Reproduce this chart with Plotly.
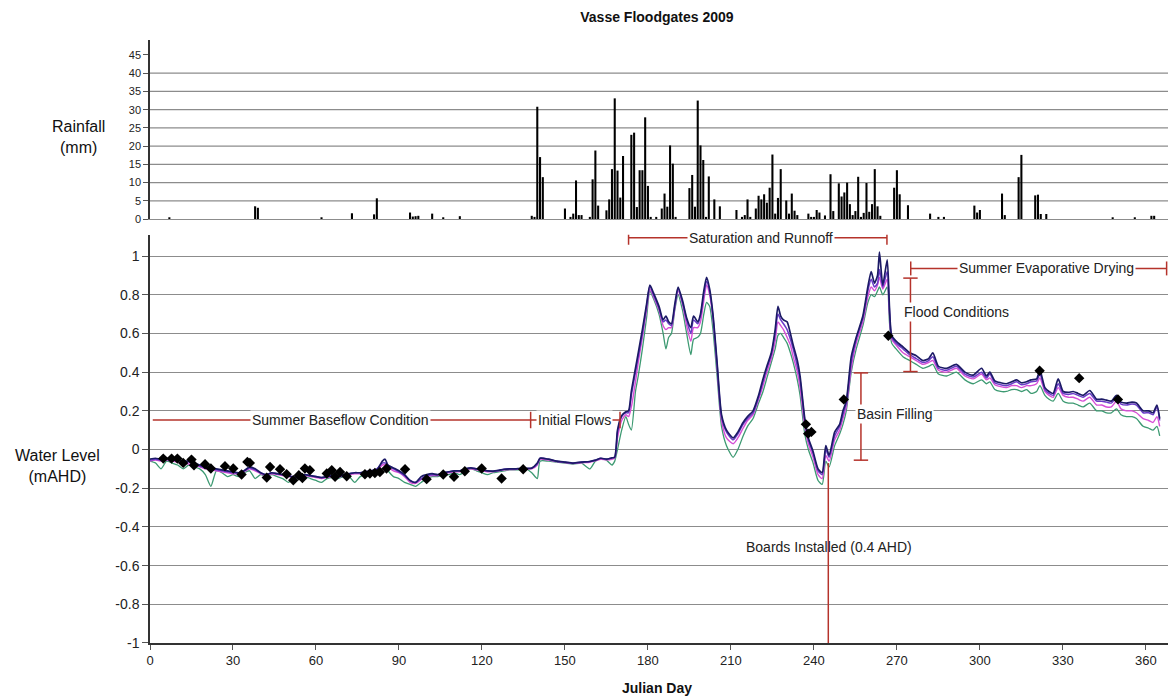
import plotly.graph_objects as go

# ---------------- data ----------------
rain_days = [7, 38, 39, 62, 73, 81, 82, 94, 95, 96, 97, 102, 106, 112, 138, 139, 140, 141, 142,
             150, 152, 153, 154, 155, 156, 159, 160, 161, 162, 165, 166, 167, 168, 169, 170, 171,
             174, 175, 176, 177, 178, 179, 180, 181, 183, 185, 186, 187, 188, 189, 190,
             195, 196, 197, 198, 199, 200, 201, 202, 204, 206, 212, 214, 215, 216, 217,
             219, 220, 221, 222, 223, 224, 225, 226, 227, 228, 230, 231, 232, 233, 234,
             238, 239, 240, 241, 242, 244, 246, 247, 249, 250, 251, 252, 253, 254, 255, 256,
             257, 258, 259, 260, 261, 262, 263, 264, 269, 270, 271, 274, 282, 285, 287,
             298, 299, 300, 308, 309, 314, 315, 320, 321, 322, 324, 348, 356, 362, 363]
rain_mm = [0.5, 3.5, 3.1, 0.5, 1.6, 1.3, 5.7, 1.8, 0.7, 0.8, 0.9, 1.5, 0.5, 0.8, 0.9, 0.6, 30.8, 17, 11.5,
           2.9, 0.6, 1.5, 10.6, 1.1, 1.1, 0.6, 10.9, 18.8, 3.7, 2.4, 5.4, 13.7, 33.1, 13.3, 5.9, 17.3,
           23.1, 23.7, 3.3, 13.4, 13.4, 27.9, 9.1, 0.6, 0.6, 2.9, 7, 3.4, 20.2, 15.2, 0.6,
           8.5, 12.1, 3.4, 32.5, 20.2, 16.2, 0.6, 11.7, 5.4, 3.5, 2.5, 0.6, 1.1, 5.4, 0.6,
           2.9, 6.4, 5.4, 6.8, 4.5, 8.6, 17.7, 1.5, 5.8, 13.7, 5.1, 1.5, 7, 2.3, 1.1,
           1.5, 0.6, 0.6, 2.5, 1.8, 1, 12.3, 2.2, 9.8, 6.2, 7.3, 10, 4.1, 1.1, 2.2, 11.6,
           0.6, 1.7, 9.9, 2, 4.1, 13.7, 3.5, 0.9, 8.6, 13.4, 6.8, 3.8, 1.5, 0.6, 0.6,
           3.7, 1.8, 2.5, 7, 1.1, 11.5, 17.6, 6.5, 6.7, 1.4, 1.4, 0.5, 0.5, 0.9, 0.9]

level_days = [0, 2, 4, 6, 8, 10, 12, 14, 16, 18, 20, 22, 24, 26, 28, 30, 32, 34, 36, 38, 40, 42, 44, 46, 48,
              50, 52, 54, 56, 58, 60, 62, 64, 66, 68, 70, 72, 74, 76, 78, 80, 82, 84, 85, 86, 88, 90, 92,
              94, 96, 98, 100, 102, 104, 106, 108, 110, 112, 114, 116, 118, 120, 122, 124, 126, 128, 130,
              132, 134, 136, 138, 140, 141, 144, 147, 150, 153, 156, 159, 161, 163, 165, 167, 168, 169,
              170.5, 172, 173, 174, 175.5, 176.5, 178, 179.5, 180.7, 182, 184, 185.5, 186.5, 187.5, 188.5,
              189.7, 190.9, 192.5, 194, 195.5, 196.5, 198, 199, 200.2, 201.2, 202.3, 203.5, 205, 206.6,
              208.4, 210.8, 212.5, 214.4, 216, 218, 220, 221.6, 223, 224.6, 226, 227, 228, 229, 230.3,
              231.5, 232.5, 234, 235, 236.7, 238, 239.7, 241.5, 243, 244.3, 245.5, 247.5, 249.3, 250.5,
              251.7, 253.5, 255.3, 257.7, 259.5, 260.7, 261.9, 263, 263.7, 264.9, 266.5, 267.3, 268.1,
              269.7, 272.2, 274.6, 277, 279.4, 281.5, 283, 285, 288, 291.5, 294.6, 297.6, 300.6, 302.4,
              303.6, 305.4, 307.5, 309.6, 311.5, 313.3, 315, 316.9, 318.5, 320.5, 321.7, 323.5, 325,
              326.5, 328.3, 330.1, 332, 333.7, 335.5, 337.3, 339.7, 342.2, 344, 345.8, 347.5, 349.4,
              351, 353, 355, 356.6, 359, 361, 362.6, 364, 365]

level_navy = [-0.05, -0.045, -0.05, -0.045, -0.05, -0.05, -0.06, -0.06, -0.07, -0.08, -0.09, -0.095, -0.1,
              -0.105, -0.11, -0.115, -0.12, -0.11, -0.09, -0.1, -0.12, -0.13, -0.12, -0.125, -0.13,
              -0.135, -0.145, -0.14, -0.13, -0.135, -0.14, -0.145, -0.14, -0.135, -0.14, -0.13, -0.125,
              -0.12, -0.12, -0.115, -0.11, -0.105, -0.06, -0.05, -0.08, -0.095, -0.11, -0.13,
              -0.16, -0.17, -0.14, -0.13, -0.125, -0.13, -0.12, -0.115, -0.11, -0.11, -0.1, -0.095,
              -0.1, -0.105, -0.11, -0.112, -0.108, -0.102, -0.1,
              -0.1, -0.098, -0.098, -0.096, -0.07, -0.045, -0.05, -0.06, -0.065, -0.07, -0.065, -0.062,
              -0.055, -0.045, -0.05, -0.043, -0.04, 0.1,
              0.175, 0.195, 0.2, 0.3, 0.42, 0.5, 0.62, 0.75, 0.85, 0.81, 0.74, 0.67, 0.69, 0.66, 0.65,
              0.75, 0.84, 0.77, 0.68, 0.63, 0.69, 0.66, 0.7, 0.82, 0.89, 0.83, 0.7, 0.45, 0.18,
              0.1, 0.06, 0.09, 0.14, 0.17, 0.2, 0.28, 0.365, 0.43, 0.5, 0.62, 0.74, 0.69, 0.67, 0.66,
              0.6, 0.54, 0.46, 0.38, 0.16, 0.06, -0.01, -0.1, -0.12, 0.02, -0.03, 0.09, 0.13, 0.2,
              0.25, 0.48, 0.58, 0.69, 0.84, 0.92, 0.86, 0.9, 1.02, 0.85, 0.98, 0.74, 0.59,
              0.56, 0.53, 0.5, 0.485, 0.46, 0.47, 0.5, 0.43, 0.42, 0.44, 0.4, 0.385, 0.42, 0.38,
              0.4, 0.355, 0.345, 0.34, 0.35, 0.36, 0.345, 0.35, 0.36, 0.365, 0.41, 0.32, 0.3,
              0.29, 0.365, 0.3, 0.295, 0.3, 0.29, 0.28, 0.305, 0.26, 0.26, 0.255, 0.25, 0.28,
              0.245, 0.24, 0.245, 0.24, 0.2, 0.2, 0.19, 0.23, 0.16]

level_purple = [-0.055, -0.05, -0.055, -0.05, -0.055, -0.055, -0.065, -0.065, -0.075, -0.085, -0.095, -0.1, -0.105,
                -0.11, -0.115, -0.12, -0.12, -0.11, -0.095, -0.105, -0.12, -0.13, -0.12, -0.125, -0.13,
                -0.135, -0.14, -0.14, -0.13, -0.135, -0.14, -0.145, -0.14, -0.135, -0.14, -0.13, -0.125,
                -0.12, -0.12, -0.115, -0.11, -0.1, -0.07, -0.07, -0.08, -0.1, -0.115, -0.135,
                -0.16, -0.17, -0.15, -0.135, -0.13, -0.13, -0.12, -0.115, -0.11, -0.11, -0.1, -0.095,
                -0.1, -0.105, -0.11, -0.112, -0.108, -0.102, -0.1,
                -0.1, -0.098, -0.098, -0.096, -0.075, -0.045, -0.05, -0.06, -0.065, -0.07, -0.065, -0.062,
                -0.055, -0.045, -0.05, -0.043, -0.04, 0.09,
                0.17, 0.19, 0.19, 0.28, 0.4, 0.48, 0.6, 0.74, 0.845, 0.8, 0.73, 0.66, 0.67, 0.65, 0.64,
                0.74, 0.83, 0.76, 0.67, 0.6, 0.67, 0.65, 0.69, 0.8, 0.87, 0.82, 0.69, 0.44, 0.17,
                0.09, 0.05, 0.08, 0.13, 0.16, 0.19, 0.27, 0.35, 0.42, 0.49, 0.6, 0.7, 0.67, 0.65, 0.62,
                0.57, 0.52, 0.43, 0.36, 0.15, 0.05, -0.02, -0.11, -0.13, 0.0, -0.04, 0.07, 0.12, 0.18,
                0.24, 0.45, 0.57, 0.68, 0.82, 0.88, 0.84, 0.86, 0.93, 0.84, 0.92, 0.72, 0.58,
                0.55, 0.52, 0.49, 0.47, 0.45, 0.46, 0.48, 0.42, 0.41, 0.43, 0.39, 0.375, 0.4, 0.37,
                0.39, 0.345, 0.335, 0.33, 0.34, 0.35, 0.335, 0.34, 0.35, 0.355, 0.39, 0.31, 0.29,
                0.28, 0.34, 0.29, 0.285, 0.29, 0.28, 0.27, 0.29, 0.25, 0.25, 0.245, 0.24, 0.27,
                0.235, 0.23, 0.235, 0.23, 0.19, 0.19, 0.18, 0.22, 0.15]

level_magenta = [-0.06, -0.055, -0.06, -0.055, -0.06, -0.065, -0.07, -0.075, -0.08, -0.09, -0.1, -0.105, -0.11,
                 -0.115, -0.12, -0.125, -0.125, -0.115, -0.1, -0.11, -0.125, -0.135, -0.125, -0.13, -0.135,
                 -0.14, -0.145, -0.145, -0.135, -0.14, -0.145, -0.15, -0.145, -0.14, -0.145, -0.135, -0.13,
                 -0.125, -0.125, -0.12, -0.115, -0.11, -0.08, -0.08, -0.09, -0.11, -0.12, -0.14,
                 -0.17, -0.175, -0.155, -0.14, -0.135, -0.135, -0.125, -0.12, -0.115, -0.115, -0.105, -0.1,
                 -0.105, -0.11, -0.115, -0.115, -0.11, -0.105, -0.103,
                 -0.103, -0.1, -0.1, -0.1, -0.08, -0.05, -0.055, -0.062, -0.068, -0.072, -0.068, -0.066,
                 -0.058, -0.05, -0.053, -0.05, -0.045, 0.06,
                 0.15, 0.18, 0.17, 0.22, 0.35, 0.45, 0.58, 0.72, 0.83, 0.79, 0.72, 0.64, 0.62, 0.63, 0.63,
                 0.73, 0.82, 0.75, 0.64, 0.56, 0.63, 0.63, 0.66, 0.77, 0.85, 0.8, 0.68, 0.42, 0.15,
                 0.06, 0.03, 0.06, 0.11, 0.15, 0.18, 0.26, 0.33, 0.4, 0.47, 0.56, 0.66, 0.64, 0.62, 0.58,
                 0.54, 0.48, 0.4, 0.32, 0.12, 0.03, -0.04, -0.13, -0.15, -0.03, -0.06, 0.05, 0.1, 0.16,
                 0.22, 0.42, 0.55, 0.66, 0.79, 0.84, 0.82, 0.85, 0.89, 0.83, 0.88, 0.7, 0.57,
                 0.54, 0.5, 0.48, 0.46, 0.44, 0.45, 0.46, 0.41, 0.4, 0.42, 0.38, 0.365, 0.39, 0.36,
                 0.37, 0.335, 0.325, 0.32, 0.33, 0.33, 0.32, 0.33, 0.33, 0.34, 0.37, 0.3, 0.28,
                 0.27, 0.32, 0.28, 0.27, 0.27, 0.26, 0.25, 0.27, 0.23, 0.23, 0.22, 0.22, 0.25,
                 0.21, 0.2, 0.2, 0.19, 0.16, 0.15, 0.14, 0.17, 0.12]

level_green = [-0.06, -0.07, -0.1, -0.06, -0.07, -0.08, -0.1, -0.08, -0.09, -0.1, -0.13, -0.19, -0.11,
               -0.12, -0.14, -0.13, -0.14, -0.12, -0.11, -0.15, -0.13, -0.14, -0.13, -0.14, -0.15,
               -0.17, -0.15, -0.15, -0.14, -0.15, -0.16, -0.17, -0.15, -0.145, -0.15, -0.14, -0.14,
               -0.17, -0.14, -0.13, -0.13, -0.12, -0.1, -0.1, -0.11, -0.14, -0.15, -0.17,
               -0.18, -0.19, -0.17, -0.15, -0.14, -0.14, -0.13, -0.13, -0.12, -0.13, -0.11, -0.1,
               -0.11, -0.12, -0.13, -0.12, -0.115, -0.11, -0.105,
               -0.105, -0.105, -0.1, -0.12, -0.15, -0.06, -0.06, -0.065, -0.07, -0.075, -0.07, -0.1,
               -0.06, -0.05, -0.055, -0.08, -0.06, 0.0,
               0.1, 0.17, 0.13, 0.1, 0.3, 0.38, 0.52, 0.68, 0.82, 0.78, 0.7, 0.6, 0.52, 0.58, 0.6,
               0.72, 0.8, 0.72, 0.6, 0.49, 0.57, 0.58, 0.6, 0.7, 0.76, 0.74, 0.62, 0.38, 0.12,
               0.02, -0.04, 0.0, 0.07, 0.12, 0.16, 0.24, 0.3, 0.37, 0.45, 0.52, 0.59, 0.6, 0.58, 0.55,
               0.5, 0.45, 0.36, 0.28, 0.08, 0.0, -0.07, -0.16, -0.18, -0.06, -0.09, 0.02, 0.08, 0.13,
               0.2, 0.4, 0.52, 0.64, 0.76, 0.8, 0.79, 0.82, 0.84, 0.8, 0.84, 0.66, 0.55,
               0.52, 0.48, 0.46, 0.44, 0.42, 0.43, 0.44, 0.39, 0.38, 0.4, 0.36, 0.34, 0.36, 0.34,
               0.35, 0.31, 0.3, 0.3, 0.31, 0.31, 0.3, 0.31, 0.29, 0.3, 0.33, 0.28, 0.26,
               0.25, 0.29, 0.25, 0.24, 0.24, 0.23, 0.22, 0.24, 0.2, 0.2, 0.19, 0.19, 0.21,
               0.18, 0.17, 0.17, 0.16, 0.12, 0.11, 0.1, 0.12, 0.07]

obs_days = [4.8, 7.8, 9.9, 12, 15, 15.9, 19.9, 22, 27.1, 30.1, 33.1, 35.2, 36.1, 42.2, 43.4, 47, 49.4,
            51.8, 53.8, 55.1, 56, 57.8, 63.9, 65.7, 66.9, 68.7, 71.1, 77.7, 79.5, 81.3, 83.1, 85.5,
            92.2, 100, 106, 109.9, 113.8, 119.9, 127.1, 134.9, 237.1, 237.9, 239.1, 250.8, 266.9,
            321.6, 335.9, 349.9]
obs_level = [-0.047, -0.047, -0.047, -0.069, -0.052, -0.081, -0.076, -0.098, -0.086, -0.098, -0.129,
             -0.064, -0.069, -0.145, -0.09, -0.102, -0.128, -0.159, -0.133, -0.147, -0.098, -0.107,
             -0.124, -0.107, -0.141, -0.116, -0.138, -0.128, -0.124, -0.121, -0.116, -0.098, -0.102,
             -0.153, -0.129, -0.141, -0.112, -0.098, -0.15, -0.102, 0.13, 0.082, 0.091, 0.259, 0.588,
             0.407, 0.369, 0.259]

x_ticks = list(range(0, 361, 30))
rain_ticks = list(range(0, 46, 5))
level_ticks = [-1, -0.8, -0.6, -0.4, -0.2, 0, 0.2, 0.4, 0.6, 0.8, 1]
level_ticktext = ["-1", "-0.8", "-0.6", "-0.4", "-0.2", "0", "0.2", "0.4", "0.6", "0.8", "1"]

# ---------------- figure ----------------
RED = "#b5332b"
FONT = "Liberation Sans, Arial, sans-serif"
fig = go.Figure()

fig.add_trace(go.Bar(x=rain_days, y=rain_mm, xaxis="x2", yaxis="y2",
                     marker=dict(color="black", line=dict(width=0)), showlegend=False))

for vals, col, w in [(level_green, "#3d9a72", 1.3), (level_magenta, "#d64fd6", 1.4),
                     (level_purple, "#6a3cc8", 1.5), (level_navy, "#1c1a66", 1.7)]:
    fig.add_trace(go.Scatter(x=level_days, y=vals, mode="lines", xaxis="x", yaxis="y",
                             line=dict(color=col, width=w, shape="spline", smoothing=0.6),
                             showlegend=False))

fig.add_trace(go.Scatter(x=obs_days, y=obs_level, mode="markers", xaxis="x", yaxis="y",
                         marker=dict(symbol="diamond", color="black", size=8), showlegend=False))

# top panel gridlines (5..40)
for v in rain_ticks[1:-1]:
    fig.add_shape(type="line", xref="x2 domain", yref="y2", x0=0, x1=1, y0=v, y1=v,
                  line=dict(color="#8c8c8c", width=1.2), layer="below")

def seg(x0, y0, x1, y1):
    fig.add_shape(type="line", xref="x", yref="y", x0=x0, y0=y0, x1=x1, y1=y1,
                  line=dict(color=RED, width=1.5), layer="above")

# Summer baseflow + initial flows
seg(1, 0.152, 170, 0.152)
seg(137.6, 0.11, 137.6, 0.195)
seg(169.9, 0.11, 169.9, 0.195)
# Saturation and runoff
seg(173, 1.094, 266.4, 1.094)
seg(173, 1.058, 173, 1.13)
seg(266.4, 1.058, 266.4, 1.13)
# Summer evaporative drying
seg(275, 0.936, 367.5, 0.936)
seg(275, 0.9, 275, 0.972)
seg(367.5, 0.9, 367.5, 0.972)
# Flood conditions
seg(274.9, 0.403, 274.9, 0.886)
seg(272.3, 0.886, 277.5, 0.886)
seg(272.3, 0.403, 277.5, 0.403)
# Basin filling
seg(257, -0.055, 257, 0.396)
seg(254.4, 0.396, 259.6, 0.396)
seg(254.4, -0.055, 259.6, -0.055)
# Boards installed
seg(245.2, -0.07, 245.2, -1)

def label(text, x, y, bg=True):
    fig.add_annotation(text=text, x=x, y=y, xref="x", yref="y", showarrow=False,
                       font=dict(family=FONT, size=14, color="#222222"),
                       bgcolor="white" if bg else None, borderpad=1,
                       xanchor="center", yanchor="middle")

label("Summer Baseflow Condition", 68.8, 0.152)
label("Initial Flows", 153.6, 0.152)
label("Saturation and Runnoff", 220.7, 1.094)
label("Summer Evaporative Drying", 324.2, 0.936)
label("Flood Conditions", 291.5, 0.71)
label("Basin Filling", 269.2, 0.184)
label("Boards Installed (0.4 AHD)", 245.4, -0.506, bg=False)

fig.add_annotation(text="Rainfall<br>(mm)", x=-0.0707, y=0.839, xref="paper", yref="paper",
                   showarrow=False, font=dict(family=FONT, size=16, color="#111111"),
                   xanchor="center", yanchor="middle")
fig.add_annotation(text="Water Level<br>(mAHD)", x=-0.0904, y=0.2935, xref="paper", yref="paper",
                   showarrow=False, font=dict(family=FONT, size=16, color="#111111"),
                   xanchor="center", yanchor="middle")
fig.add_annotation(text="<b>Julian Day</b>", x=0.498, y=-0.0746, xref="paper", yref="paper",
                   showarrow=False, font=dict(family=FONT, size=14, color="#111111"),
                   xanchor="center", yanchor="middle")

fig.update_layout(
    width=1171, height=696,
    margin=dict(l=150, r=3, t=40, b=53),
    paper_bgcolor="white", plot_bgcolor="white",
    title=dict(text="<b>Vasse Floodgates 2009</b>", x=0.561, xanchor="center",
               y=0.976, yanchor="middle", font=dict(family=FONT, size=14, color="#111111")),
    bargap=0.25,
    showlegend=False,
    xaxis=dict(domain=[0, 1], anchor="y", range=[0, 368], tickvals=x_ticks,
               showgrid=False, zeroline=False, showline=True, linecolor="#333333", linewidth=1.5,
               ticks="outside", ticklen=5, tickcolor="#555555",
               tickfont=dict(family="Liberation Sans Narrow, Arial Narrow, " + FONT, size=13, color="#222222")),
    yaxis=dict(domain=[0, 0.677], anchor="x", range=[-1, 1.11], tickvals=level_ticks,
               ticktext=level_ticktext,
               showgrid=True, gridcolor="#8c8c8c", gridwidth=1.2, zeroline=False,
               showline=True, linecolor="#333333", linewidth=1.5,
               ticks="outside", ticklen=6, tickcolor="#555555",
               tickfont=dict(family=FONT, size=14, color="#222222")),
    xaxis2=dict(domain=[0, 1], anchor="y2", range=[0, 368],
                showticklabels=False, showgrid=False, zeroline=False,
                showline=True, linecolor="#8c8c8c", linewidth=1.2, ticks=""),
    yaxis2=dict(domain=[0.703, 1], anchor="x2", range=[0, 49.1], tickvals=rain_ticks,
                showgrid=False, zeroline=False, showline=True, linecolor="#333333", linewidth=1.5,
                ticks="outside", ticklen=5, tickcolor="#555555",
                tickfont=dict(family=FONT, size=11, color="#222222")),
)

fig.write_html("out.html", config={"displayModeBar": False},
               post_script="document.body.style.margin='0';document.body.style.overflow='hidden';")
